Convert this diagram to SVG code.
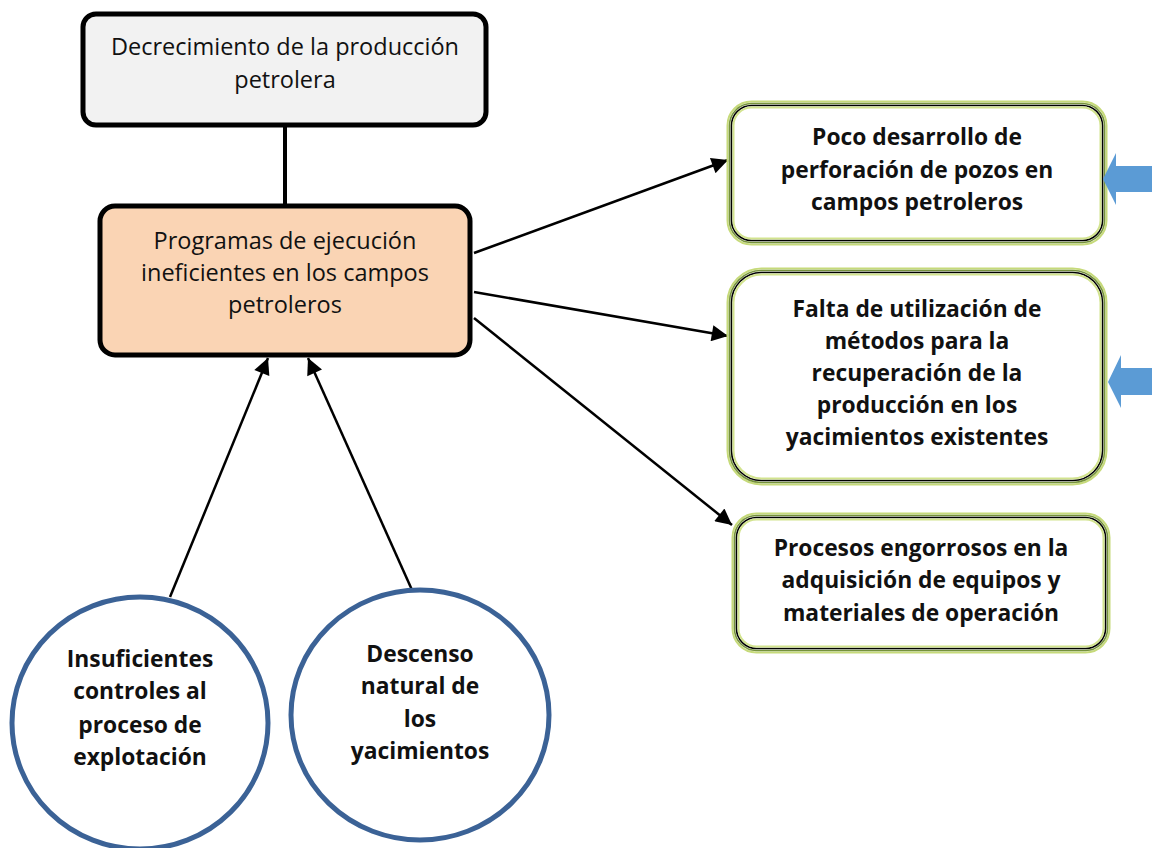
<svg xmlns="http://www.w3.org/2000/svg" width="1152" height="848" viewBox="0 0 1152 848">
<style>
.t{font-family:"Open Sans","Liberation Sans",sans-serif;fill:#111;text-anchor:middle}
.r{font-size:23.5px}
.b{font-size:22.8px;font-weight:bold}
.main{stroke:#000;stroke-width:5}
.halo{fill:none;stroke:#c6da7a;stroke-width:2}
.olive{fill:#fff;stroke:#76923c;stroke-width:1.6}
.blk{fill:none;stroke:#000;stroke-width:1.6}
.inner{fill:none;stroke:#d2e38e;stroke-width:2}
.circ{fill:#fff;stroke:#3b6296;stroke-width:5}
.con{stroke:#000;stroke-width:2.5;fill:none}
.blue{fill:#5b9bd5}
</style>
<defs>
<marker id="ah" viewBox="0 0 10 10" refX="10" refY="5" markerWidth="7.5" markerHeight="6.5" orient="auto" markerUnits="strokeWidth">
<path d="M0,0 L10,5 L0,10 z" fill="#000"/>
</marker>
</defs>
<g id="connectors">
<line class="con" x1="285" y1="125" x2="285" y2="206" style="stroke-width:4"/>
<line class="con" x1="170" y1="597" x2="268" y2="358" marker-end="url(#ah)"/>
<line class="con" x1="412" y1="590" x2="308" y2="358" marker-end="url(#ah)"/>
<line class="con" x1="474" y1="253" x2="728" y2="160" marker-end="url(#ah)"/>
<line class="con" x1="474" y1="292" x2="728" y2="336" marker-end="url(#ah)"/>
<line class="con" x1="474" y1="318" x2="732" y2="525" marker-end="url(#ah)"/>
</g>
<g id="n-top">
<rect class="main" x="83" y="14" width="403" height="111" rx="13" fill="#f2f2f2"/>
<text class="t r" x="285" y="55">Decrecimiento de la producción</text>
<text class="t r" x="285" y="88">petrolera</text>
</g>
<g id="n-center">
<rect class="main" x="100" y="206" width="370" height="149" rx="15" fill="#fad4b4"/>
<text class="t r" x="285" y="249">Programas de ejecución</text>
<text class="t r" x="285" y="281">ineficientes en los campos</text>
<text class="t r" x="285" y="313">petroleros</text>
</g>
<g id="n-box1">
<rect class="halo" x="727.5" y="101.5" width="379" height="143" rx="24"/>
<rect class="olive" x="729.5" y="103.5" width="375" height="139" rx="22"/>
<rect class="blk" x="731.5" y="105.5" width="371" height="135" rx="20"/>
<rect class="inner" x="733.5" y="107.5" width="367" height="131" rx="18"/>
<text class="t b" x="917" y="145">Poco desarrollo de</text>
<text class="t b" x="917" y="178">perforación de pozos en</text>
<text class="t b" x="917" y="210">campos petroleros</text>
</g>
<g id="n-box2">
<rect class="halo" x="727.5" y="268.5" width="379" height="216" rx="34"/>
<rect class="olive" x="729.5" y="270.5" width="375" height="212" rx="32"/>
<rect class="blk" x="731.5" y="272.5" width="371" height="208" rx="30"/>
<rect class="inner" x="733.5" y="274.5" width="367" height="204" rx="28"/>
<text class="t b" x="917" y="317">Falta de utilización de</text>
<text class="t b" x="917" y="349">métodos para la</text>
<text class="t b" x="917" y="381">recuperación de la</text>
<text class="t b" x="917" y="413">producción en los</text>
<text class="t b" x="917" y="445">yacimientos existentes</text>
</g>
<g id="n-box3">
<rect class="halo" x="732.5" y="513.5" width="377" height="139" rx="24"/>
<rect class="olive" x="734.5" y="515.5" width="373" height="135" rx="22"/>
<rect class="blk" x="736.5" y="517.5" width="369" height="131" rx="20"/>
<rect class="inner" x="738.5" y="519.5" width="365" height="127" rx="18"/>
<text class="t b" x="921" y="556">Procesos engorrosos en la</text>
<text class="t b" x="921" y="588">adquisición de equipos y</text>
<text class="t b" x="921" y="621">materiales de operación</text>
</g>
<g id="n-circle1">
<ellipse class="circ" cx="140" cy="723" rx="128" ry="126"/>
<text class="t b" x="140" y="667">Insuficientes</text>
<text class="t b" x="140" y="699">controles al</text>
<text class="t b" x="140" y="733">proceso de</text>
<text class="t b" x="140" y="765">explotación</text>
</g>
<g id="n-circle2">
<ellipse class="circ" cx="420" cy="715" rx="129" ry="125"/>
<text class="t b" x="420" y="662">Descenso</text>
<text class="t b" x="420" y="694">natural de</text>
<text class="t b" x="420" y="727">los</text>
<text class="t b" x="420" y="759">yacimientos</text>
</g>
<g id="blue-arrows">
<polygon class="blue" points="1103,179 1116,153 1116,166 1152,166 1152,192 1116,192 1116,205"/>
<polygon class="blue" points="1108,382 1121,355 1121,368 1152,368 1152,395 1121,395 1121,408"/>
</g>
</svg>
